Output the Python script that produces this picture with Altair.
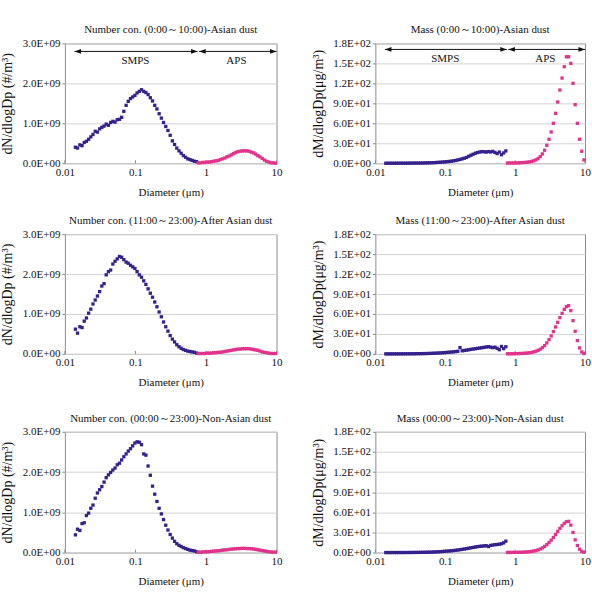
import altair as alt
import pandas as pd

# ---------------------------------------------------------------------------
# Instrument size channels (µm)
# ---------------------------------------------------------------------------
SMPS_D = [0.0141, 0.0151, 0.0163, 0.0175, 0.0188, 0.0202, 0.0217, 0.0233, 0.0250, 0.0269,
          0.0289, 0.0311, 0.0334, 0.0359, 0.0385, 0.0414, 0.0445, 0.0478, 0.0514, 0.0552,
          0.0594, 0.0638, 0.0685, 0.0737, 0.0791, 0.0851, 0.0914, 0.0982, 0.1055, 0.1134,
          0.1219, 0.1310, 0.1407, 0.1512, 0.1625, 0.1747, 0.1877, 0.2017, 0.2167, 0.2329,
          0.2503, 0.2690, 0.2890, 0.3106, 0.3338, 0.3587, 0.3854, 0.4142, 0.4451, 0.4783,
          0.5140, 0.5523, 0.5935, 0.6378, 0.6854, 0.7365]
APS_D = [0.777, 0.835, 0.898, 0.965, 1.037, 1.114, 1.197, 1.286, 1.382, 1.486,
         1.596, 1.715, 1.843, 1.981, 2.129, 2.288, 2.458, 2.642, 2.839, 3.051,
         3.278, 3.523, 3.786, 4.068, 4.371, 4.698, 5.048, 5.425, 5.829, 6.264,
         6.732, 7.234, 7.774, 8.354, 8.977, 9.647]

# ---------------------------------------------------------------------------
# Number size distributions, dN/dlogDp in units of 1E+09 #/m3
# ---------------------------------------------------------------------------
NUM_ASIAN_SMPS = [0.40, 0.38, 0.46, 0.44, 0.52, 0.55, 0.60, 0.66, 0.72, 0.80,
                  0.78, 0.86, 0.90, 0.93, 0.98, 0.95, 1.02, 1.05, 1.03, 1.09,
                  1.10, 1.15, 1.30, 1.45, 1.55, 1.62, 1.66, 1.70, 1.76, 1.80,
                  1.84, 1.80, 1.77, 1.72, 1.64, 1.56, 1.45, 1.36, 1.24, 1.13,
                  1.02, 0.92, 0.82, 0.70, 0.56, 0.47, 0.38, 0.31, 0.25, 0.19,
                  0.15, 0.11, 0.09, 0.07, 0.05, 0.04]
NUM_ASIAN_APS = [0.01, 0.01, 0.02, 0.02, 0.03, 0.03, 0.04, 0.05, 0.06, 0.07,
                 0.09, 0.11, 0.13, 0.16, 0.18, 0.21, 0.24, 0.27, 0.29, 0.30,
                 0.31, 0.31, 0.31, 0.30, 0.28, 0.26, 0.23, 0.19, 0.16, 0.12,
                 0.08, 0.05, 0.03, 0.01, 0.01, 0.00]

NUM_AFTER_SMPS = [0.62, 0.52, 0.68, 0.66, 0.82, 0.90, 1.02, 1.12, 1.25, 1.35,
                  1.45, 1.56, 1.70, 1.76, 1.98, 2.06, 2.10, 2.25, 2.32, 2.38,
                  2.44, 2.42, 2.36, 2.30, 2.27, 2.22, 2.18, 2.14, 2.06, 1.98,
                  1.92, 1.83, 1.74, 1.63, 1.52, 1.42, 1.30, 1.18, 1.05, 0.93,
                  0.80, 0.68, 0.57, 0.46, 0.37, 0.30, 0.23, 0.18, 0.14, 0.11,
                  0.09, 0.07, 0.06, 0.05, 0.04, 0.02]
NUM_AFTER_APS = [0.01, 0.01, 0.01, 0.01, 0.02, 0.02, 0.02, 0.03, 0.03, 0.04,
                 0.04, 0.05, 0.06, 0.07, 0.08, 0.09, 0.10, 0.11, 0.12, 0.12,
                 0.13, 0.13, 0.13, 0.13, 0.12, 0.11, 0.10, 0.09, 0.07, 0.05,
                 0.04, 0.03, 0.02, 0.01, 0.01, 0.01]

NUM_NON_SMPS = [0.44, 0.58, 0.55, 0.72, 0.74, 0.92, 0.98, 1.10, 1.18, 1.35,
                1.48, 1.56, 1.64, 1.75, 1.86, 1.93, 1.99, 2.05, 2.10, 2.18,
                2.22, 2.30, 2.38, 2.45, 2.52, 2.58, 2.65, 2.72, 2.75, 2.74,
                2.68, 2.45, 2.42, 2.15, 1.92, 1.65, 1.45, 1.27, 1.10, 0.96,
                0.82, 0.68, 0.56, 0.45, 0.36, 0.28, 0.22, 0.18, 0.15, 0.12,
                0.10, 0.08, 0.06, 0.05, 0.04, 0.02]
NUM_NON_APS = [0.01, 0.01, 0.015, 0.02, 0.02, 0.025, 0.03, 0.035, 0.04, 0.045,
               0.05, 0.06, 0.065, 0.07, 0.08, 0.085, 0.09, 0.095, 0.10, 0.10,
               0.105, 0.105, 0.10, 0.10, 0.095, 0.09, 0.08, 0.07, 0.06, 0.05,
               0.04, 0.03, 0.02, 0.015, 0.01, 0.01]

# ---------------------------------------------------------------------------
# Mass size distributions, dM/dlogDp in µg/m3
# ---------------------------------------------------------------------------
MASS_ASIAN_SMPS = [0.02, 0.02, 0.03, 0.03, 0.04, 0.05, 0.06, 0.07, 0.09, 0.11,
                   0.12, 0.15, 0.18, 0.21, 0.25, 0.28, 0.33, 0.39, 0.44, 0.52,
                   0.62, 0.75, 0.90, 1.08, 1.28, 1.50, 1.75, 2.0, 2.3, 2.7,
                   3.1, 3.6, 4.2, 4.9, 5.7, 6.6, 7.6, 8.7, 10.5, 12.0,
                   13.5, 15.0, 16.0, 16.8, 17.5, 17.3, 16.8, 17.5, 17.0, 17.8,
                   16.2, 14.5, 16.8, 12.8, 15.5, 18.5]
MASS_ASIAN_APS = [0.3, 0.3, 0.4, 0.4, 0.5, 0.6, 0.8, 1.0, 1.2, 1.5,
                  2.0, 2.7, 3.6, 5.0, 7.0, 10.0, 14.0, 19.5, 27, 36,
                  47, 60, 75, 92, 110, 128, 145, 160, 160, 150,
                  120, 88, 60, 36, 18, 5]

MASS_AFTER_SMPS = [0.02, 0.02, 0.03, 0.04, 0.05, 0.06, 0.07, 0.09, 0.11, 0.13,
                   0.15, 0.18, 0.21, 0.25, 0.29, 0.34, 0.40, 0.46, 0.53, 0.62,
                   0.72, 0.84, 0.98, 1.12, 1.3, 1.5, 1.7, 1.95, 2.2, 2.5,
                   2.8, 3.1, 3.5, 3.9, 9.5, 4.7, 5.2, 5.7, 6.2, 6.8,
                   7.3, 7.8, 8.3, 8.8, 9.3, 9.8, 10.4, 10.8, 10.2, 9.4,
                   10.1, 8.4, 6.3, 11.2, 8.0, 10.8]
MASS_AFTER_APS = [0.2, 0.2, 0.3, 0.3, 0.4, 0.5, 0.6, 0.8, 1.0, 1.3,
                  1.7, 2.2, 3.0, 4.0, 5.3, 7.0, 9.5, 12.5, 16.5, 21.5,
                  27, 33.5, 40.5, 47.5, 54.5, 61, 67, 71, 72.5, 65,
                  50, 34, 20, 9, 3, 0.5]

MASS_NON_SMPS = [0.02, 0.02, 0.03, 0.03, 0.04, 0.05, 0.06, 0.07, 0.08, 0.10,
                 0.12, 0.14, 0.17, 0.20, 0.24, 0.28, 0.33, 0.39, 0.46, 0.54,
                 0.64, 0.75, 0.88, 1.03, 1.2, 1.4, 1.62, 1.86, 2.1, 2.4,
                 2.7, 3.0, 3.4, 3.8, 4.3, 4.8, 5.3, 5.9, 6.5, 7.1,
                 7.7, 8.3, 8.8, 9.3, 9.6, 9.9, 10.2, 9.0, 10.6, 11.2,
                 11.8, 12.0, 12.5, 13.2, 14.5, 17.0]
MASS_NON_APS = [0.2, 0.2, 0.2, 0.3, 0.3, 0.4, 0.5, 0.6, 0.8, 1.0,
                1.3, 1.7, 2.3, 3.0, 4.0, 5.3, 7.0, 9.2, 11.8, 15,
                18.5, 22.5, 27, 31.5, 36, 40, 43.5, 46, 46.5, 41,
                30, 19, 10.5, 5, 1.8, 0.5]

# ---------------------------------------------------------------------------
# Axis ticks and labels
# ---------------------------------------------------------------------------
X_TICKS = [0.01, 0.1, 1, 10]
X_TICK_LABELS = ["0.01", "0.1", "1", "10"]
NUM_TICKS = [0, 1e9, 2e9, 3e9]
NUM_TICK_LABELS = ["0.0E+00", "1.0E+09", "2.0E+09", "3.0E+09"]
MASS_TICKS = [0, 30, 60, 90, 120, 150, 180]
MASS_TICK_LABELS = ["0.0E+00", "3.0E+01", "6.0E+01", "9.0E+01", "1.2E+02", "1.5E+02", "1.8E+02"]

# Instrument range arrows (top row only)
ARROW_START = [0.0137, 0.80]
ARROW_END = [0.76, 10.0]
ARROW_TEXT = ["SMPS", "APS"]
ARROW_TEXT_X = [0.1, 2.7]
ARROW_Y = {"number": 2.8e9, "mass": 171}
ARROW_TEXT_Y = {"number": 2.57e9, "mass": 157}

FONT = "Liberation Serif"
SMPS_COLOR = "#35208c"
APS_COLOR = "#e2338c"
INK = "#111111"


def label_expr(ticks, labels):
    t = "[" + ",".join(repr(float(v)) for v in ticks) + "]"
    l = "[" + ",".join("'%s'" % s for s in labels) + "]"
    return "indexof(%s, datum.value) >= 0 ? %s[indexof(%s, datum.value)] : ''" % (t, l, t)


def panel(title, smps_vals, aps_vals, kind, width, height, arrows=False):
    if kind == "number":
        ymax, ticks, labels = 3e9, NUM_TICKS, NUM_TICK_LABELS
        ytitle = "dN/dlogDp (#/m³)"
        factor = 1e9
    else:
        ymax, ticks, labels = 180, MASS_TICKS, MASS_TICK_LABELS
        ytitle = "dM/dlogDp(μg/m³)"
        factor = 1.0

    x_enc = alt.X(
        "d:Q",
        scale=alt.Scale(type="log", domain=[0.01, 10], nice=False),
        axis=alt.Axis(
            values=X_TICKS, labelExpr=label_expr(X_TICKS, X_TICK_LABELS),
            title="Diameter (μm)", grid=False, ticks=False, domain=False,
            labelFont=FONT, labelFontSize=11, labelColor=INK, labelPadding=3,
            titleFont=FONT, titleFontSize=11, titleFontWeight="normal", titleColor=INK,
            titleX=width / 2, titleY=29, titleBaseline="middle", titleAlign="center",
            labelFlush=False,
        ),
    )
    y_enc = alt.Y(
        "v:Q",
        scale=alt.Scale(domain=[0, ymax], nice=False, zero=True),
        axis=alt.Axis(
            values=ticks, labelExpr=label_expr(ticks, labels),
            title=ytitle, grid=True, gridColor="#d4d4d4", gridWidth=1,
            domain=False, ticks=True, tickSize=3, tickColor="#8c8c8c",
            labelFont=FONT, labelFontSize=11, labelColor=INK, labelPadding=2,
            titleFont=FONT, titleFontSize=14, titleFontWeight="normal", titleColor=INK,
            titleAngle=270, titleX=-57, titleY=height / 2,
            titleBaseline="middle", titleAlign="center",
        ),
    )

    smps_df = pd.DataFrame({"d": SMPS_D, "v": [v * factor for v in smps_vals]})
    aps_df = pd.DataFrame({"d": APS_D, "v": [v * factor for v in aps_vals]})

    smps = alt.Chart(smps_df).mark_point(
        shape="square", filled=True, size=11, color=SMPS_COLOR, opacity=1
    ).encode(x=x_enc, y=y_enc)
    aps = alt.Chart(aps_df).mark_point(
        shape="square", filled=True, size=11, color=APS_COLOR, opacity=1
    ).encode(x=x_enc, y=y_enc)

    tick_df = pd.DataFrame({"d": X_TICKS})
    xticks = alt.Chart(tick_df).mark_rule(color="#8c8c8c", strokeWidth=1).encode(
        x=x_enc, y=alt.value(height - 3), y2=alt.value(height)
    )

    layers = [xticks, smps, aps]

    if arrows:
        ay = ARROW_Y[kind]
        seg_df = pd.DataFrame({"d": ARROW_START, "d2": ARROW_END, "v": [ay, ay]})
        rule = alt.Chart(seg_df).mark_rule(color=INK, strokeWidth=1).encode(
            x=x_enc, x2="d2:Q", y=y_enc
        )
        left_df = pd.DataFrame({"d": ARROW_START, "v": [ay, ay]})
        right_df = pd.DataFrame({"d": ARROW_END, "v": [ay, ay]})
        left_heads = alt.Chart(left_df).mark_point(
            shape="M0,0L1,-0.36L1,0.36Z", size=170, filled=True, color=INK, opacity=1
        ).encode(x=x_enc, y=y_enc)
        right_heads = alt.Chart(right_df).mark_point(
            shape="M0,0L-1,-0.36L-1,0.36Z", size=170, filled=True, color=INK, opacity=1
        ).encode(x=x_enc, y=y_enc)
        text_df = pd.DataFrame({"d": ARROW_TEXT_X, "v": [ARROW_TEXT_Y[kind]] * 2,
                                "t": ARROW_TEXT})
        text = alt.Chart(text_df).mark_text(
            font=FONT, fontSize=11, color=INK, align="center", baseline="middle"
        ).encode(x=x_enc, y=y_enc, text="t:N")
        layers += [rule, left_heads, right_heads, text]

    return alt.layer(*layers).properties(
        width=width, height=height,
        title=alt.TitleParams(title, font=FONT, fontSize=11, fontWeight="normal",
                              color=INK, anchor="middle", offset=2, frame="group"),
    )


A = panel("Number con. (0:00～10:00)-Asian dust", NUM_ASIAN_SMPS, NUM_ASIAN_APS,
          "number", 212, 120, arrows=True)
B = panel("Mass (0:00～10:00)-Asian dust", MASS_ASIAN_SMPS, MASS_ASIAN_APS,
          "mass", 210, 120, arrows=True)
C = panel("Number con. (11:00～23:00)-After Asian dust", NUM_AFTER_SMPS, NUM_AFTER_APS,
          "number", 212, 120)
D = panel("Mass (11:00～23:00)-After Asian dust", MASS_AFTER_SMPS, MASS_AFTER_APS,
          "mass", 210, 120)
E = panel("Number con. (00:00～23:00)-Non-Asian dust", NUM_NON_SMPS, NUM_NON_APS,
          "number", 212, 121)
F = panel("Mass (00:00～23:00)-Non-Asian dust", MASS_NON_SMPS, MASS_NON_APS,
          "mass", 210, 121)

row1 = alt.hconcat(A, B, spacing=99, bounds="flush")
row2 = alt.hconcat(C, D, spacing=99, bounds="flush")
row3 = alt.hconcat(E, F, spacing=99, bounds="flush")

chart = alt.vconcat(
    row1,
    alt.vconcat(row2, row3, spacing=23),
    spacing=16,
).properties(
    autosize=alt.AutoSizeParams(type="pad"),
    padding={"left": 0, "top": 23, "right": 1, "bottom": 14},
    background="white",
).configure_view(
    stroke="#8c8c8c", strokeWidth=1
)

chart.save("out.html", embed_options={"renderer": "svg", "actions": False})
